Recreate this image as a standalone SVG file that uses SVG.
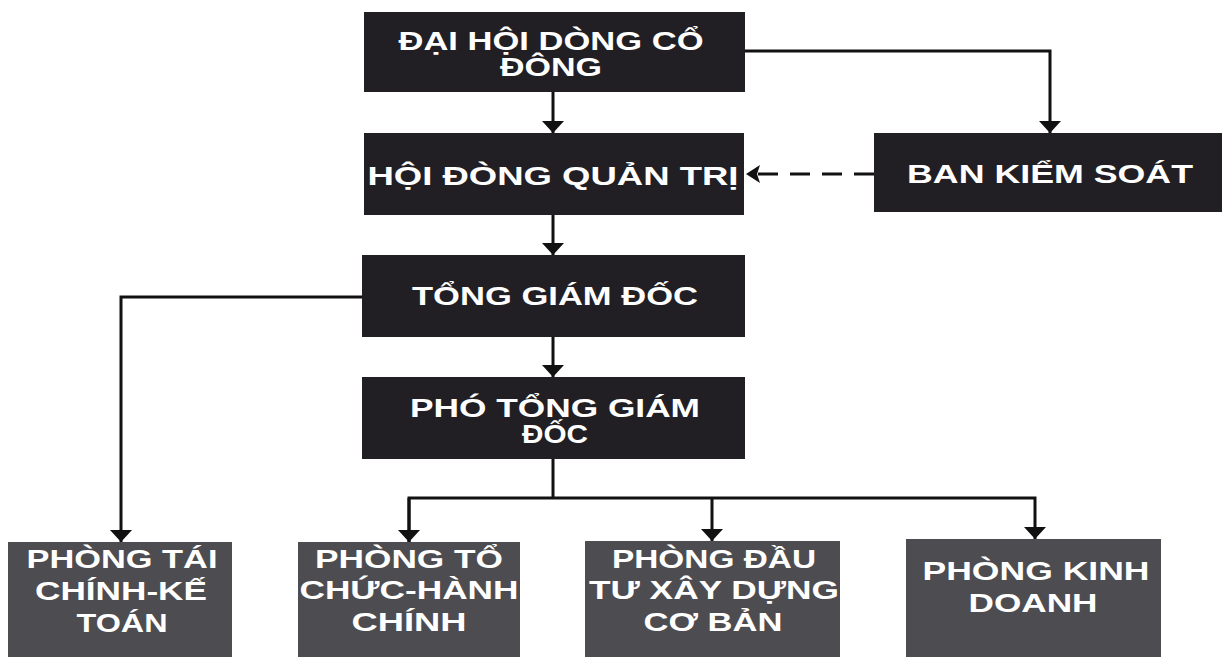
<svg xmlns="http://www.w3.org/2000/svg" width="1229" height="657" viewBox="0 0 1229 657">
<style>
.top{fill:#211f24}
.bot{fill:#4d4c50}
text{font-family:"Liberation Sans",Arial,sans-serif;font-weight:bold;fill:#ffffff;text-anchor:middle;font-size:25px}
.ln{stroke:#111;stroke-width:3;fill:none}
</style>
<defs>
<marker id="ah" markerWidth="12" markerHeight="22" refX="12" refY="11" orient="auto" markerUnits="userSpaceOnUse" viewBox="0 0 12 22">
<path d="M0,0 L12,11 L0,22 Z" fill="#111"/>
</marker>
<marker id="al" markerWidth="14" markerHeight="18" refX="14" refY="9" orient="auto" markerUnits="userSpaceOnUse" viewBox="0 0 14 18">
<path d="M0,0 L14,9 L0,18 L3,9 Z" fill="#111"/>
</marker>
</defs>
<rect width="1229" height="657" fill="#ffffff"/>
<g id="connectors">
<line class="ln" x1="553" y1="92" x2="553" y2="133" marker-end="url(#ah)"/>
<polyline class="ln" points="745,51 1050,51 1050,133" marker-end="url(#ah)"/>
<line class="ln" x1="874" y1="174" x2="746" y2="174" stroke-dasharray="20,12" marker-end="url(#al)"/>
<line class="ln" x1="553" y1="215" x2="553" y2="255" marker-end="url(#ah)"/>
<polyline class="ln" points="362,297 121,297 121,542" marker-end="url(#ah)"/>
<line class="ln" x1="553" y1="337" x2="553" y2="377" marker-end="url(#ah)"/>
<line class="ln" x1="553" y1="459" x2="553" y2="498"/>
<polyline class="ln" points="409,542 409,498 1035,498 1035,539" marker-end="url(#ah)"/>
<line class="ln" x1="409" y1="498" x2="409" y2="542" marker-end="url(#ah)"/>
<line class="ln" x1="712" y1="498" x2="712" y2="541" marker-end="url(#ah)"/>
</g>
<g id="dhdcd">
<rect class="top" x="364" y="12" width="381" height="80"/>
<text x="551" y="50" textLength="305" lengthAdjust="spacingAndGlyphs">ĐẠI HỘI DÒNG CỔ</text>
<text x="551" y="76" textLength="102" lengthAdjust="spacingAndGlyphs">ĐÔNG</text>
</g>
<g id="hdqt">
<rect class="top" x="364" y="133" width="380" height="82"/>
<text x="553" y="185" textLength="371" lengthAdjust="spacingAndGlyphs">HỘI ĐÒNG QUẢN TRỊ</text>
</g>
<g id="bks">
<rect class="top" x="874" y="133" width="348" height="79"/>
<text x="1050" y="183" textLength="286" lengthAdjust="spacingAndGlyphs">BAN KIỂM SOÁT</text>
</g>
<g id="tgd">
<rect class="top" x="362" y="255" width="383" height="82"/>
<text x="555" y="305" textLength="286" lengthAdjust="spacingAndGlyphs">TỔNG GIÁM ĐỐC</text>
</g>
<g id="ptgd">
<rect class="top" x="362" y="377" width="383" height="82"/>
<text x="555" y="417" textLength="290" lengthAdjust="spacingAndGlyphs">PHÓ TỔNG GIÁM</text>
<text x="555" y="443" textLength="66" lengthAdjust="spacingAndGlyphs">ĐỐC</text>
</g>
<g id="ptckt">
<rect class="bot" x="8" y="542" width="224" height="115"/>
<text x="122" y="568" textLength="191" lengthAdjust="spacingAndGlyphs">PHÒNG TÁI</text>
<text x="121" y="600" textLength="172" lengthAdjust="spacingAndGlyphs">CHÍNH-KẾ</text>
<text x="122" y="632" textLength="91" lengthAdjust="spacingAndGlyphs">TOÁN</text>
</g>
<g id="ptchc">
<rect class="bot" x="298" y="542" width="222" height="115"/>
<text x="409" y="568" textLength="188" lengthAdjust="spacingAndGlyphs">PHÒNG TỔ</text>
<text x="409" y="599" textLength="219" lengthAdjust="spacingAndGlyphs">CHỨC-HÀNH</text>
<text x="409" y="631" textLength="115" lengthAdjust="spacingAndGlyphs">CHÍNH</text>
</g>
<g id="pdtxdcb">
<rect class="bot" x="585" y="541" width="255" height="116"/>
<text x="714" y="568" textLength="204" lengthAdjust="spacingAndGlyphs">PHÒNG ĐẦU</text>
<text x="714" y="599" textLength="250" lengthAdjust="spacingAndGlyphs">TƯ XÂY DỰNG</text>
<text x="713" y="631" textLength="139" lengthAdjust="spacingAndGlyphs">CƠ BẢN</text>
</g>
<g id="pkd">
<rect class="bot" x="906" y="539" width="255" height="118"/>
<text x="1036" y="580" textLength="227" lengthAdjust="spacingAndGlyphs">PHÒNG KINH</text>
<text x="1033" y="612" textLength="129" lengthAdjust="spacingAndGlyphs">DOANH</text>
</g>
</svg>
